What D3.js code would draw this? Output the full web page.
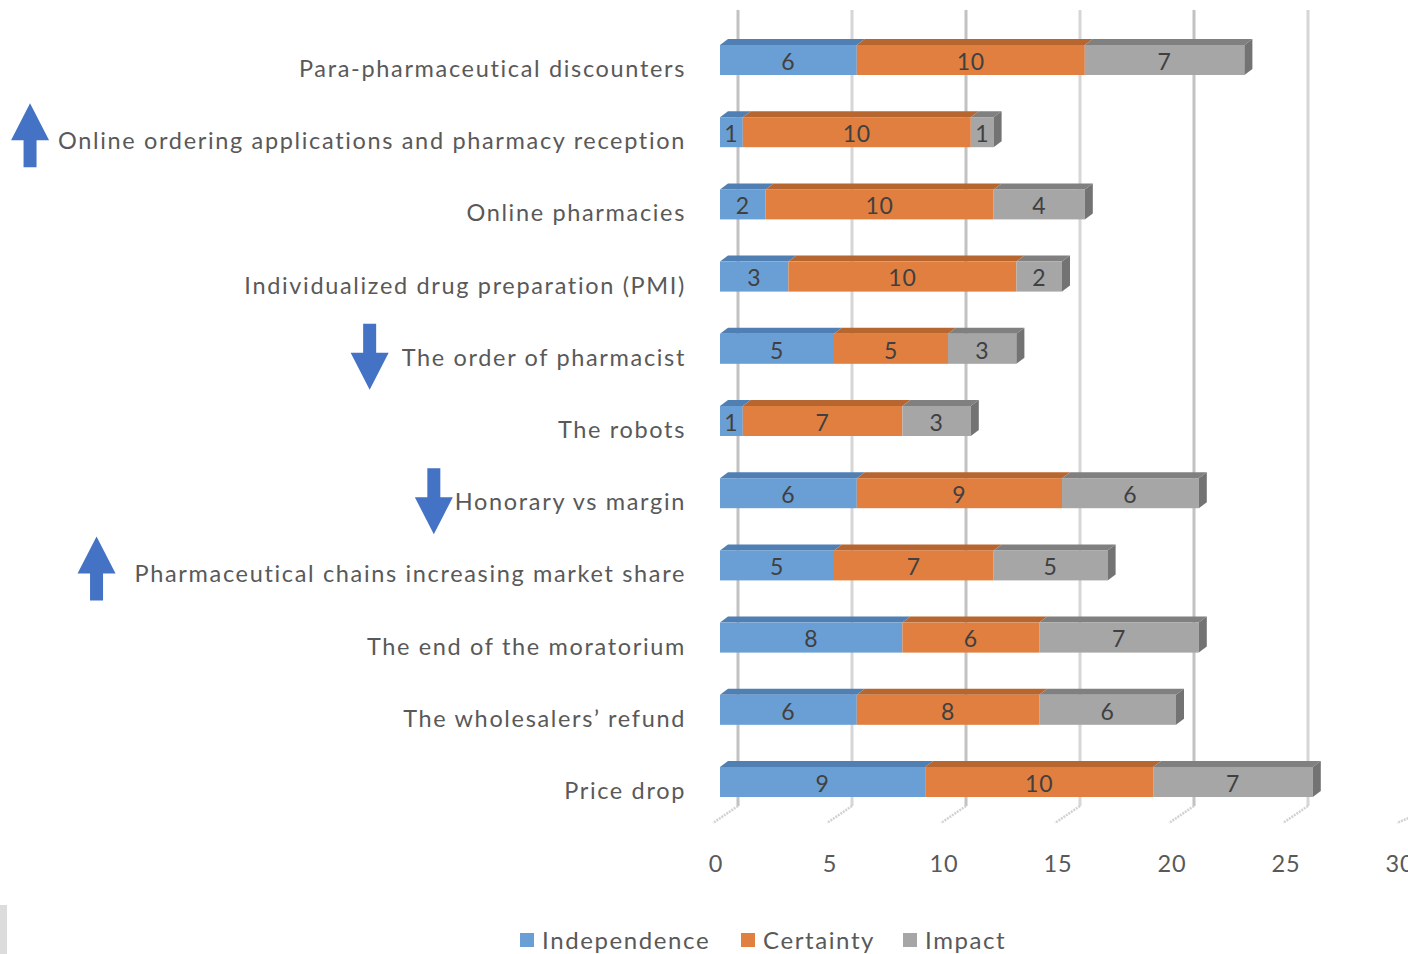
<!DOCTYPE html>
<html><head><meta charset="utf-8">
<script src="https://cdn.jsdelivr.net/npm/d3@7"></script>
<style>body{margin:0;background:#fff}svg{display:block}</style>
</head><body>
<svg id="c" width="1408" height="954"></svg>
<script>
const categories = [
  "Para-pharmaceutical discounters",
  "Online ordering applications and pharmacy reception",
  "Online pharmacies",
  "Individualized drug preparation (PMI)",
  "The order of pharmacist",
  "The robots",
  "Honorary vs margin",
  "Pharmaceutical chains increasing market share",
  "The end of the moratorium",
  "The wholesalers\u2019 refund",
  "Price drop"
];
const independence = [6, 1, 2, 3, 5, 1, 6, 5, 8, 6, 9];
const certainty    = [10, 10, 10, 10, 5, 7, 9, 7, 6, 8, 10];
const impact       = [7, 1, 4, 2, 3, 3, 6, 5, 7, 6, 7];
const seriesNames  = ["Independence", "Certainty", "Impact"];
const xTicks       = [0, 5, 10, 15, 20, 25, 30];
// trend arrows next to some category labels
const arrowCats  = ["Online ordering applications and pharmacy reception", "The order of pharmacist",
                    "Honorary vs margin", "Pharmaceutical chains increasing market share"];
const arrowDirs  = ["up", "down", "down", "up"];
const arrowGap   = [28, 32, 21, 38];

const colors = {
  Independence:{front:"#6a9fd5", top:"#4f7fb3", side:"#4a77a8"},
  Certainty:{front:"#e07f3f", top:"#b8662f", side:"#a95d2b"},
  Impact:{front:"#a6a6a6", top:"#808080", side:"#737373"}
};
const font = "Lato, 'Open Sans', sans-serif";
const svg = d3.select("#c");
const x = d3.scaleLinear().domain([0,30]).range([720, 720+30*22.8]);
const y = d3.scalePoint().domain(categories).range([60, 782]);
const barH = 30, dx = 8, dy = -6, wallDx = 18;

// gridlines (back wall)
const grid = svg.append("g");
xTicks.forEach((t,i)=>{
  const gx = x(t)+wallDx;
  if (t < 30) grid.append("line").attr("x1",gx).attr("x2",gx).attr("y1",10).attr("y2",806)
    .attr("stroke", (i%2===1)?"#d6d6d6":"#c2c2c2").attr("stroke-width",3);
  grid.append("path").attr("d",`M${gx},${t<30?806:812}L${x(t)-7},823`)
    .attr("stroke","#d2d2d2").attr("stroke-width",2.5).attr("stroke-dasharray","2,1").attr("fill","none");
});

// bars
const data = categories.map((c,i)=>({cat:c, vals:[independence[i],certainty[i],impact[i]]}));
const bars = svg.append("g");
data.forEach(d=>{
  let cum = 0;
  const yc = y(d.cat), y0 = yc - barH/2;
  const segs = d.vals.map((v,j)=>{const s={name:seriesNames[j], a:cum, b:cum+v, v}; cum+=v; return s;});
  const g = bars.append("g");
  segs.forEach((s,j)=>{
    const x0 = x(s.a), x1 = x(s.b), c = colors[s.name];
    g.append("path").attr("d",`M${x0},${y0}L${x0+dx},${y0+dy}L${x1+dx},${y0+dy}L${x1},${y0}Z`).attr("fill",c.top);
    g.append("rect").attr("x",x0).attr("y",y0).attr("width",x1-x0).attr("height",barH).attr("fill",c.front);
    if (j===segs.length-1){
      g.append("path").attr("d",`M${x1},${y0}L${x1+dx},${y0+dy}L${x1+dx},${y0+barH+dy}L${x1},${y0+barH}Z`).attr("fill",c.side);
    }
  });
  segs.forEach(s=>{
    g.append("text").attr("x",(x(s.a)+x(s.b))/2).attr("y",yc+4).attr("text-anchor","middle")
      .attr("dominant-baseline","middle").attr("font-family",font).attr("font-size",23)
      .attr("letter-spacing",0.8).attr("fill","#404040").text(s.v);
  });
});

// category labels
const labels = svg.append("g");
categories.forEach(c=>{
  labels.append("text").attr("x",686).attr("y",y(c)+11).attr("text-anchor","end")
    .attr("dominant-baseline","middle").attr("font-family",font).attr("font-size",23.5)
    .attr("letter-spacing",1.66).attr("fill","#595959").text(c);
});

// arrows
const arrowG = svg.append("g").attr("fill","#4472c4");
arrowCats.forEach((c,i)=>{
  const dir = arrowDirs[i];
  const node = labels.selectAll("text").filter(function(){return this.textContent===c;}).node();
  const bb = node.getBBox();
  const cx = bb.x - arrowGap[i], cy = y(c)+10;
  const hw = 19, sw = 6.5, headL = 37, total = 64;
  let p;
  if (dir==="up"){
    const tip = cy - 39;
    p = `M${cx},${tip}L${cx+hw},${tip+headL}L${cx+sw},${tip+headL}L${cx+sw},${tip+total}L${cx-sw},${tip+total}L${cx-sw},${tip+headL}L${cx-hw},${tip+headL}Z`;
  } else {
    const top = cy - 35;
    const tot = 66;
    p = `M${cx-sw},${top}L${cx+sw},${top}L${cx+sw},${top+tot-headL}L${cx+hw},${top+tot-headL}L${cx},${top+tot}L${cx-hw},${top+tot-headL}L${cx-sw},${top+tot-headL}Z`;
  }
  arrowG.append("path").attr("d",p);
});

// x tick labels
const ax = svg.append("g");
xTicks.forEach(t=>{
  ax.append("text").attr("x",x(t)-4).attr("y",866).attr("text-anchor","middle")
    .attr("dominant-baseline","middle").attr("font-family",font).attr("font-size",23.5)
    .attr("letter-spacing",0.8).attr("fill","#595959").text(t);
});

// legend
const leg = svg.append("g");
const legX = [520, 741, 903];
seriesNames.forEach((s,i)=>{
  leg.append("rect").attr("x",legX[i]).attr("y",933).attr("width",14).attr("height",14).attr("fill",colors[s].front);
  leg.append("text").attr("x",legX[i]+22).attr("y",943).attr("dominant-baseline","middle")
    .attr("font-family",font).attr("font-size",24).attr("letter-spacing",1.6).attr("fill","#595959").text(s);
});
// corner artifact
svg.append("rect").attr("x",0).attr("y",905).attr("width",7).attr("height",49).attr("fill","#dcdcdc");
</script>
</body></html>
